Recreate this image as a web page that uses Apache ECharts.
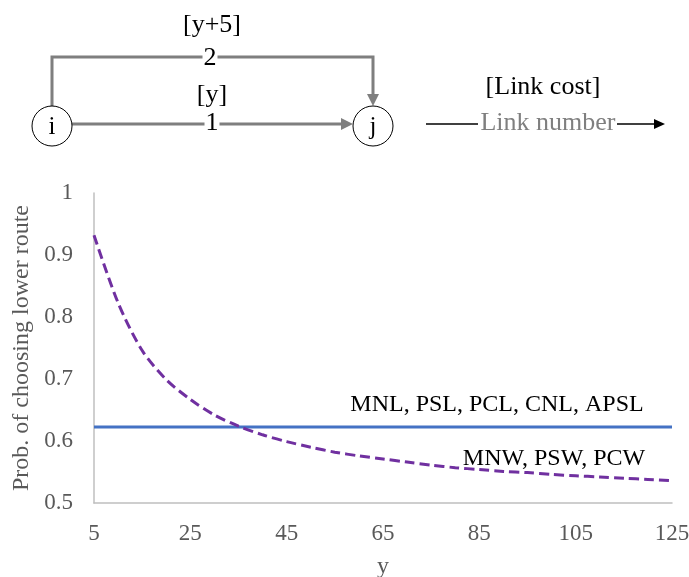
<!DOCTYPE html>
<html>
<head>
<meta charset="utf-8">
<script src="https://cdn.jsdelivr.net/npm/echarts@6/dist/echarts.min.js"></script>
<style>
  html, body { margin: 0; padding: 0; background: #fff; }
  #chart { width: 689px; height: 577px; }
</style>
</head>
<body>
<div id="chart"></div>
<script>
// chart data
const yValues = [5, 10, 15, 20, 25, 30, 35, 40, 45, 50, 55, 60, 65, 70, 75, 80, 85, 90, 95, 100, 105, 110, 115, 120, 125];
const logitProb = [0.6225, 0.6225, 0.6225, 0.6225, 0.6225, 0.6225, 0.6225, 0.6225, 0.6225, 0.6225, 0.6225, 0.6225, 0.6225,
    0.6225, 0.6225, 0.6225, 0.6225, 0.6225, 0.6225, 0.6225, 0.6225, 0.6225, 0.6225, 0.6225, 0.6225];
const weibitProb = [0.932, 0.823, 0.746, 0.699, 0.667, 0.642, 0.624, 0.610, 0.599, 0.590, 0.582, 0.576, 0.571,
    0.566, 0.561, 0.557, 0.554, 0.551, 0.549, 0.546, 0.544, 0.542, 0.540, 0.538, 0.536];
const xTicks = [5, 25, 45, 65, 85, 105, 125];
const yTicks = [0.5, 0.6, 0.7, 0.8, 0.9, 1];
const logitLabel = 'MNL, PSL, PCL, CNL, APSL';
const weibitLabel = 'MNW, PSW, PCW';

const serif = '"Liberation Serif", "Times New Roman", serif';
const grey = '#7f7f7f';

function txt(x, y, text, size, color, extra) {
    return {
        type: 'text', x: x, y: y, z: 10,
        style: Object.assign({
            text: text, fontSize: size, fontFamily: serif, fill: color || '#000',
            align: 'center', verticalAlign: 'middle'
        }, extra || {})
    };
}

// network diagram above the plot
const diagram = [
    { type: 'polyline', shape: { points: [[52, 106], [52, 57], [373, 57], [373, 96]] }, style: { stroke: grey, lineWidth: 3, fill: null } },
    { type: 'polygon', shape: { points: [[367, 94], [379, 94], [373, 106]] }, style: { fill: grey } },
    { type: 'line', shape: { x1: 72, y1: 124, x2: 343, y2: 124 }, style: { stroke: grey, lineWidth: 3 } },
    { type: 'polygon', shape: { points: [[341, 118], [341, 130], [353, 124]] }, style: { fill: grey } },
    { type: 'circle', shape: { cx: 52, cy: 126, r: 20 }, style: { fill: '#fff', stroke: '#000', lineWidth: 1 } },
    { type: 'circle', shape: { cx: 373, cy: 126, r: 20 }, style: { fill: '#fff', stroke: '#000', lineWidth: 1 } },
    txt(52, 127, 'i', 25),
    txt(373, 127, 'j', 25),
    txt(212, 25, '[y+5]', 26),
    txt(210, 58, '2', 26, '#000', { backgroundColor: '#fff', padding: [0, 1] }),
    txt(212, 95, '[y]', 26),
    txt(212, 123, '1', 26, '#000', { backgroundColor: '#fff', padding: [0, 1] }),
    // legend of the diagram
    txt(543, 87, '[Link cost]', 26),
    { type: 'line', shape: { x1: 426, y1: 124, x2: 478, y2: 124 }, style: { stroke: '#000', lineWidth: 1.3 } },
    txt(548, 123, 'Link number', 26, grey),
    { type: 'line', shape: { x1: 617, y1: 124, x2: 656, y2: 124 }, style: { stroke: '#000', lineWidth: 1.3 } },
    { type: 'polygon', shape: { points: [[654, 119], [654, 129], [665, 124]] }, style: { fill: '#000' } },
    // series annotations
    txt(497, 405, logitLabel, 24),
    txt(554, 459, weibitLabel, 24)
];

const chart = echarts.init(document.getElementById('chart'));
chart.setOption({
    animation: false,
    backgroundColor: '#fff',
    grid: { left: 94, right: 17, top: 193, bottom: 74, containLabel: false, outerBoundsMode: 'none' },
    graphic: diagram,
    xAxis: {
        type: 'value',
        min: xTicks[0],
        max: xTicks[xTicks.length - 1],
        interval: 20,
        name: 'y',
        nameLocation: 'middle',
        nameGap: 52,
        nameTextStyle: { fontFamily: serif, fontSize: 24, color: '#595959' },
        axisLine: { lineStyle: { color: '#bfbfbf', width: 1.5 } },
        axisTick: { show: false },
        splitLine: { show: false },
        axisLabel: { fontFamily: serif, fontSize: 23, color: '#595959', margin: 19 }
    },
    yAxis: {
        type: 'value',
        min: yTicks[0],
        max: yTicks[yTicks.length - 1],
        interval: 0.1,
        name: 'Prob. of choosing lower route',
        nameLocation: 'middle',
        nameGap: 52,
        nameTextStyle: { fontFamily: serif, fontSize: 24, color: '#595959' },
        axisLine: { show: true, lineStyle: { color: '#bfbfbf', width: 1.5 } },
        axisTick: { show: false },
        splitLine: { show: false },
        axisLabel: { fontFamily: serif, fontSize: 23, color: '#595959', margin: 21 }
    },
    series: [
        {
            name: logitLabel,
            type: 'line',
            data: yValues.map((x, i) => [x, logitProb[i]]),
            showSymbol: false,
            lineStyle: { color: '#4472c4', width: 3 }
        },
        {
            name: weibitLabel,
            type: 'line',
            smooth: 0.3,
            data: yValues.map((x, i) => [x, weibitProb[i]]),
            showSymbol: false,
            lineStyle: { color: '#7030a0', width: 3, type: [10, 5] }
        }
    ]
});
</script>
</body>
</html>
